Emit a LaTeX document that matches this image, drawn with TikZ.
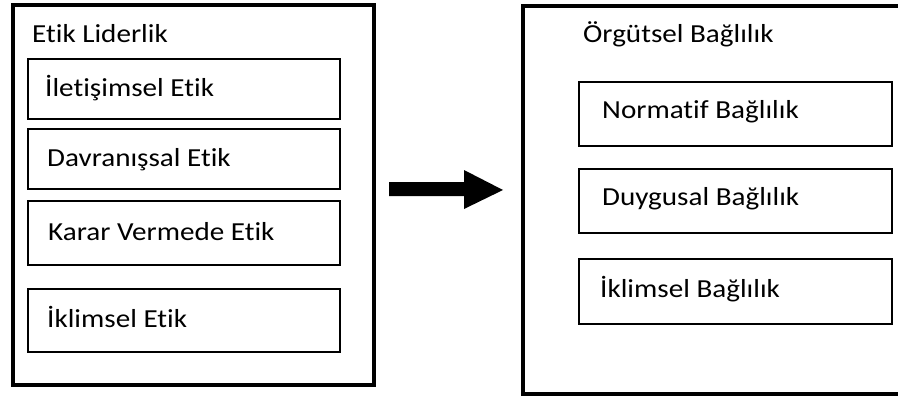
\documentclass[tikz,border=0pt]{standalone}
\usepackage{fontspec}
\setmainfont{Carlito}[Ligatures=NoCommon,FakeStretch=1.12]
\begin{document}
\begin{tikzpicture}[x=1pt,y=-1pt,
  outerbox/.style={draw=black,line width=4pt,inner sep=0pt,anchor=north west},
  innerbox/.style={draw=black,line width=1.8pt,inner sep=0pt,anchor=north west},
  lbl/.style={inner sep=0pt,anchor=base west,font=\fontsize{26}{30}\selectfont}]
\useasboundingbox (0,0) rectangle (898,396);
\fill[white] (0,0) rectangle (898,396);

% left group: ethical leadership
\node[outerbox,minimum width=361pt,minimum height=380pt] (L) at (11,3) {};
\node[lbl] (Lt) at (32,43) {Etik Liderlik};
\node[innerbox,minimum width=312pt,minimum height=60pt] (L1) at (27,58) {};
\node[lbl] (L1t) at (45,96) {İletişimsel Etik};
\node[innerbox,minimum width=312pt,minimum height=60pt] (L2) at (27,128) {};
\node[lbl] (L2t) at (47,167) {Davranışsal Etik};
\node[innerbox,minimum width=312pt,minimum height=64pt] (L3) at (27,200) {};
\node[lbl] (L3t) at (48,240) {Karar Vermede Etik};
\node[innerbox,minimum width=312pt,minimum height=63pt] (L4) at (27,288) {};
\node[lbl] (L4t) at (47,327) {İklimsel Etik};

% block arrow between the two groups
\fill[black] (389,182) -- (464,182) -- (464,170) -- (503,190)
  -- (464,209) -- (464,196) -- (389,196) -- cycle;

% right group: organisational commitment
\node[outerbox,minimum width=380pt,minimum height=388pt] (R) at (521,4) {};
\node[lbl] (Rt) at (583,43) {Örgütsel Bağlılık};
\node[innerbox,minimum width=313pt,minimum height=64pt] (R1) at (578,81) {};
\node[lbl] (R1t) at (602,118) {Normatif Bağlılık};
\node[innerbox,minimum width=313pt,minimum height=64pt] (R2) at (578,168) {};
\node[lbl] (R2t) at (602,205) {Duygusal Bağlılık};
\node[innerbox,minimum width=313pt,minimum height=65pt] (R3) at (578,258) {};
\node[lbl] (R3t) at (600,297) {İklimsel Bağlılık};
\end{tikzpicture}
\end{document}
